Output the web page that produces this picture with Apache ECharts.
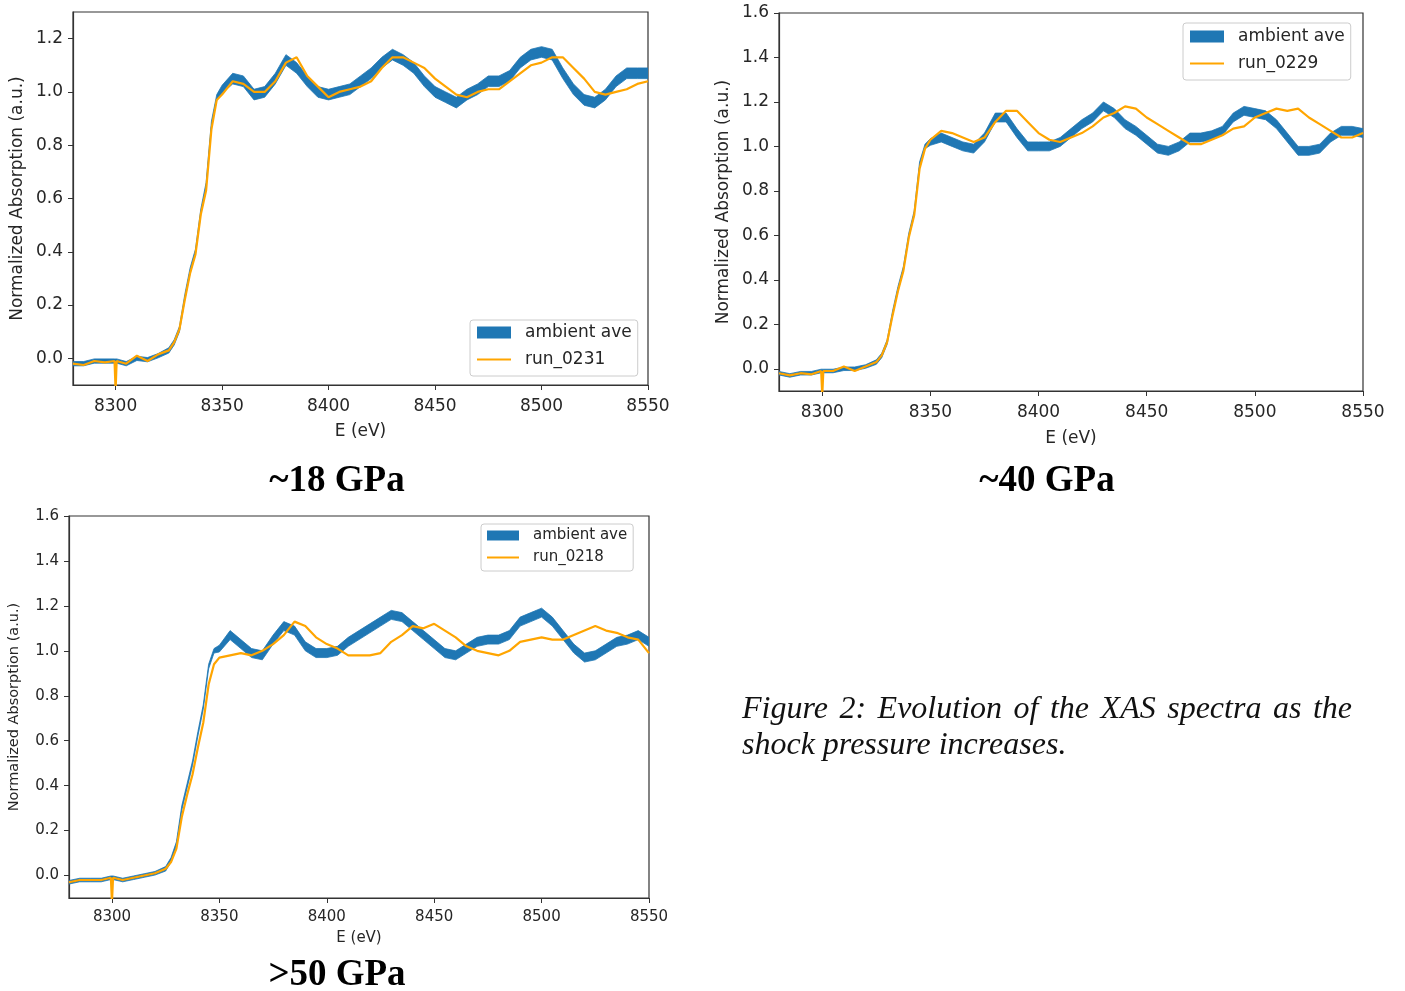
<!DOCTYPE html>
<html>
<head>
<meta charset="utf-8">
<script src="https://cdn.jsdelivr.net/npm/echarts@6/dist/echarts.min.js"></script>
<style>
  html, body { margin: 0; padding: 0; background: #fff; }
  #chart { width: 1405px; height: 991px; }
</style>
</head>
<body>
<div id="chart"></div>
<script>
// ---- data (E in eV, normalized absorption) ----
const energy = [
  8280, 8285, 8290, 8295, 8299.5, 8300, 8300.5, 8305, 8310, 8315, 8320,
  8325, 8327.5, 8330, 8332.5, 8335, 8337.5, 8340, 8342.5, 8345, 8347.5, 8350,
  8355, 8360, 8365, 8370, 8375, 8380, 8385, 8390, 8395, 8400,
  8405, 8410, 8415, 8420, 8425, 8430, 8435, 8440, 8445, 8450,
  8455, 8460, 8465, 8470, 8475, 8480, 8485, 8490, 8495, 8500,
  8505, 8510, 8515, 8520, 8525, 8530, 8535, 8540, 8545, 8550
];
// half-width of the ambient noise band
const ambientSpread = [
  0.008, 0.008, 0.008, 0.008, 0.008, 0.008, 0.008, 0.008, 0.008, 0.008, 0.008,
  0.01, 0.01, 0.01, 0.01, 0.01, 0.01, 0.01, 0.01, 0.01, 0.01, 0.015,
  0.02, 0.02, 0.02, 0.02, 0.02, 0.02, 0.02, 0.02, 0.02, 0.02,
  0.02, 0.02, 0.02, 0.02, 0.02, 0.02, 0.02, 0.02, 0.02, 0.02,
  0.02, 0.02, 0.02, 0.02, 0.02, 0.02, 0.02, 0.02, 0.02, 0.02,
  0.02, 0.02, 0.02, 0.02, 0.02, 0.02, 0.02, 0.02, 0.02, 0.02
];
const ambient18 = [
  -0.02, -0.02, -0.01, -0.01, -0.01, -0.01, -0.01, -0.02, 0.00, -0.005, 0.01,
  0.03, 0.06, 0.11, 0.23, 0.33, 0.40, 0.55, 0.65, 0.88, 0.98, 1.01,
  1.05, 1.04, 0.99, 1.00, 1.05, 1.12, 1.09, 1.04, 1.00, 0.99,
  1.00, 1.01, 1.04, 1.07, 1.11, 1.14, 1.12, 1.09, 1.04, 1.00,
  0.98, 0.96, 0.99, 1.01, 1.04, 1.04, 1.06, 1.11, 1.14, 1.15,
  1.14, 1.07, 1.01, 0.97, 0.96, 0.99, 1.04, 1.07, 1.07, 1.07
];
const run0231 = [
  -0.02, -0.025, -0.01, -0.015, -0.01, -0.12, -0.01, -0.02, 0.01, -0.01, 0.015,
  0.03, 0.06, 0.11, 0.22, 0.32, 0.39, 0.54, 0.63, 0.86, 0.97, 0.99,
  1.04, 1.03, 1.00, 1.00, 1.04, 1.11, 1.13, 1.06, 1.02, 0.98,
  1.00, 1.01, 1.02, 1.04, 1.09, 1.13, 1.13, 1.11, 1.09, 1.05,
  1.02, 0.99, 0.98, 1.00, 1.01, 1.01, 1.04, 1.07, 1.10, 1.11,
  1.13, 1.13, 1.09, 1.05, 1.00, 0.99, 1.00, 1.01, 1.03, 1.04
];
const ambient40 = [
  -0.02, -0.03, -0.02, -0.02, -0.01, -0.01, -0.01, -0.01, 0.00, 0.00, 0.01,
  0.03, 0.06, 0.12, 0.25, 0.36, 0.45, 0.60, 0.70, 0.92, 1.00, 1.02,
  1.04, 1.02, 1.00, 0.99, 1.04, 1.13, 1.13, 1.06, 1.00, 1.00,
  1.00, 1.02, 1.06, 1.10, 1.13, 1.18, 1.15, 1.10, 1.07, 1.03,
  0.99, 0.98, 1.00, 1.04, 1.04, 1.05, 1.07, 1.13, 1.16, 1.15,
  1.14, 1.10, 1.04, 0.98, 0.98, 0.99, 1.04, 1.07, 1.07, 1.06
];
const run0229 = [
  -0.02, -0.03, -0.02, -0.025, -0.01, -0.12, -0.01, -0.01, 0.01, -0.01, 0.01,
  0.03, 0.06, 0.12, 0.24, 0.35, 0.44, 0.59, 0.69, 0.90, 0.99, 1.03,
  1.07, 1.06, 1.04, 1.02, 1.04, 1.11, 1.16, 1.16, 1.11, 1.06,
  1.03, 1.02, 1.04, 1.06, 1.09, 1.13, 1.15, 1.18, 1.17, 1.13,
  1.10, 1.07, 1.04, 1.01, 1.01, 1.03, 1.05, 1.08, 1.09, 1.13,
  1.15, 1.17, 1.16, 1.17, 1.13, 1.10, 1.07, 1.04, 1.04, 1.06
];
const ambient50 = [
  -0.03, -0.02, -0.02, -0.02, -0.01, -0.01, -0.01, -0.02, -0.01, 0.00, 0.01,
  0.03, 0.07, 0.14, 0.30, 0.40, 0.50, 0.63, 0.75, 0.93, 1.00, 1.01,
  1.07, 1.03, 0.99, 0.98, 1.05, 1.11, 1.09, 1.02, 0.99, 0.99,
  1.00, 1.04, 1.07, 1.10, 1.13, 1.16, 1.15, 1.11, 1.07, 1.03,
  0.99, 0.98, 1.01, 1.04, 1.05, 1.05, 1.07, 1.13, 1.15, 1.17,
  1.13, 1.07, 1.01, 0.97, 0.98, 1.01, 1.04, 1.05, 1.07, 1.04
];
const run0218 = [
  -0.03, -0.02, -0.02, -0.02, -0.01, -0.12, -0.01, -0.02, -0.01, 0.00, 0.01,
  0.03, 0.06, 0.12, 0.26, 0.36, 0.45, 0.57, 0.68, 0.85, 0.94, 0.97,
  0.98, 0.99, 0.98, 1.00, 1.03, 1.07, 1.13, 1.11, 1.06, 1.03,
  1.01, 0.98, 0.98, 0.98, 0.99, 1.04, 1.07, 1.11, 1.10, 1.12,
  1.09, 1.06, 1.02, 1.00, 0.99, 0.98, 1.00, 1.04, 1.05, 1.06,
  1.05, 1.05, 1.07, 1.09, 1.11, 1.09, 1.08, 1.06, 1.05, 0.99
];
const xTicks = [8300, 8350, 8400, 8450, 8500, 8550];
const yTicksLow = [0, 0.2, 0.4, 0.6, 0.8, 1.0, 1.2];
const yTicksHigh = [0, 0.2, 0.4, 0.6, 0.8, 1.0, 1.2, 1.4, 1.6];
const panelTitles = ['~18 GPa', '~40 GPa', '>50 GPa'];
const captionLines = ['Figure 2: Evolution of the XAS spectra as the', 'shock pressure increases.'];

// ---- layout ----
const BLUE = '#1f77b4', ORANGE = '#ffa500', INK = '#262626';
const SANS = 'DejaVu Sans', SERIF = 'Liberation Serif';

const panels = [
  { amb: ambient18, run: run0231, runName: 'run_0231', yMax: 1.3, yTicks: yTicksLow,
    grid: { left: 73, top: 12, width: 575, height: 373 }, fs: 17, xMargin: 13, xNameGap: 38,
    legend: { left: 470, top: 320, iw: 34, ih: 12, gap: 10, pad: [4, 6, 8, 7] },
    title: { x: 337, y: 481 } },
  { amb: ambient40, run: run0229, runName: 'run_0229', yMax: 1.6, yTicks: yTicksHigh,
    grid: { left: 779, top: 13, width: 584, height: 378 }, fs: 17, xMargin: 13, xNameGap: 39,
    legend: { left: 1183, top: 23, iw: 34, ih: 12, gap: 10, pad: [5, 6, 8, 7] },
    title: { x: 1047, y: 481 } },
  { amb: ambient50, run: run0218, runName: 'run_0218', yMax: 1.6, yTicks: yTicksHigh,
    grid: { left: 69, top: 516, width: 580, height: 382 }, fs: 15, xMargin: 12, xNameGap: 33,
    legend: { left: 481, top: 524, iw: 32, ih: 10, gap: 7, pad: [4, 6, 6, 6] },
    title: { x: 337, y: 975 } }
];

const grids = [], xAxes = [], yAxes = [], series = [], legends = [];

panels.forEach((p, k) => {
  grids.push(Object.assign({ show: true, borderColor: '#333', borderWidth: 1.2,
    backgroundColor: 'transparent', containLabel: false, outerBoundsMode: 'none' }, p.grid));

  xAxes.push({
    type: 'value', gridIndex: k, min: 8280, max: 8550,
    name: 'E (eV)', nameLocation: 'middle', nameGap: p.xNameGap,
    nameTextStyle: { fontFamily: SANS, fontSize: p.fs, color: INK },
    axisLine: { show: true, onZero: false, lineStyle: { color: '#333', width: 1.2 } },
    axisTick: { show: true, length: 5, customValues: xTicks, lineStyle: { color: '#333' } },
    axisLabel: { customValues: xTicks, margin: p.xMargin, fontFamily: SANS, fontSize: p.fs, color: INK,
      formatter: v => String(v) },
    splitLine: { show: false }
  });

  yAxes.push({
    type: 'value', gridIndex: k, min: -0.1, max: p.yMax,
    name: 'Normalized Absorption (a.u.)', nameLocation: 'middle', nameRotate: 90, nameGap: 47,
    nameTextStyle: { fontFamily: SANS, fontSize: p.fs === 17 ? 17 : 14.5, color: INK },
    axisLine: { show: true, onZero: false, lineStyle: { color: '#333', width: 1.2 } },
    axisTick: { show: true, length: 5, customValues: p.yTicks, lineStyle: { color: '#333' } },
    axisLabel: { customValues: p.yTicks, margin: 10, fontFamily: SANS, fontSize: p.fs, color: INK,
      formatter: v => v.toFixed(1) },
    splitLine: { show: false }
  });

  // ambient band (fill between mean - spread and mean + spread), drawn as one polygon
  const bandData = energy.map((e, i) => [e, p.amb[i] - ambientSpread[i], p.amb[i] + ambientSpread[i]]);
  series.push({
    name: 'ambient ave', type: 'custom', xAxisIndex: k, yAxisIndex: k,
    silent: true, clip: true, itemStyle: { color: BLUE },
    encode: { x: 0, y: [1, 2] },
    data: bandData,
    renderItem: (params, api) => {
      if (params.dataIndex !== 0) return null;
      const upper = bandData.map(d => api.coord([d[0], d[2]]));
      const lower = bandData.map(d => api.coord([d[0], d[1]])).reverse();
      return {
        type: 'polygon',
        shape: { points: upper.concat(lower) },
        style: { fill: BLUE, stroke: BLUE, lineWidth: 0.8 }
      };
    }
  });
  series.push({
    name: p.runName, type: 'line', xAxisIndex: k, yAxisIndex: k,
    symbol: 'none', silent: true, color: ORANGE, z: 3,
    lineStyle: { color: ORANGE, width: 2.2 },
    data: energy.map((e, i) => [e, p.run[i]])
  });

  const L = p.legend;
  const lineIcon = 'path://M0,0 M0,' + (L.ih / 2 - 1) + ' L' + L.iw + ',' + (L.ih / 2 - 1) +
    ' L' + L.iw + ',' + (L.ih / 2 + 1) + ' L0,' + (L.ih / 2 + 1) + ' Z M' + L.iw + ',' + L.ih;
  legends.push({
    orient: 'vertical', left: L.left, top: L.top, selectedMode: false,
    itemWidth: L.iw, itemHeight: L.ih, itemGap: L.gap, padding: L.pad,
    borderColor: '#cccccc', borderWidth: 1, borderRadius: 3, backgroundColor: 'rgba(255,255,255,0.8)',
    textStyle: { fontFamily: SANS, fontSize: p.fs, color: INK, padding: [0, 0, 0, 9] },
    data: [
      { name: 'ambient ave', icon: 'rect', itemStyle: { color: BLUE, borderWidth: 0 } },
      { name: p.runName, icon: lineIcon, itemStyle: { color: ORANGE, borderWidth: 0 } }
    ]
  });
});

// panel titles and the justified caption
const graphics = panels.map((p, k) => ({
  type: 'text', x: p.title.x, y: p.title.y,
  style: { text: panelTitles[k], fontFamily: SERIF, fontWeight: 'bold', fontSize: 37,
    fill: '#000', align: 'center', verticalAlign: 'middle' }
}));

const capSize = 32;
const measure = document.createElement('canvas').getContext('2d');
measure.font = 'italic ' + capSize + 'px "' + SERIF + '"';
function captionWords(line, x0, x1, y, justify) {
  const words = line.split(' ');
  const widths = words.map(w => measure.measureText(w).width);
  const total = widths.reduce((a, b) => a + b, 0);
  const gap = justify ? (x1 - x0 - total) / (words.length - 1) : measure.measureText(' ').width;
  let x = x0;
  return words.map((w, i) => {
    const el = { type: 'text', x: x, y: y,
      style: { text: w, fontFamily: SERIF, fontStyle: 'italic', fontSize: capSize,
        fill: '#111', align: 'left', verticalAlign: 'middle' } };
    x += widths[i] + gap;
    return el;
  });
}
graphics.push(...captionWords(captionLines[0], 742, 1352, 710, true));
graphics.push(...captionWords(captionLines[1], 742, 1352, 746, false));

const chart = echarts.init(document.getElementById('chart'), null, { renderer: 'canvas' });
chart.setOption({
  backgroundColor: '#ffffff',
  animation: false,
  grid: grids,
  xAxis: xAxes,
  yAxis: yAxes,
  legend: legends,
  series: series,
  graphic: graphics
});
</script>
</body>
</html>
